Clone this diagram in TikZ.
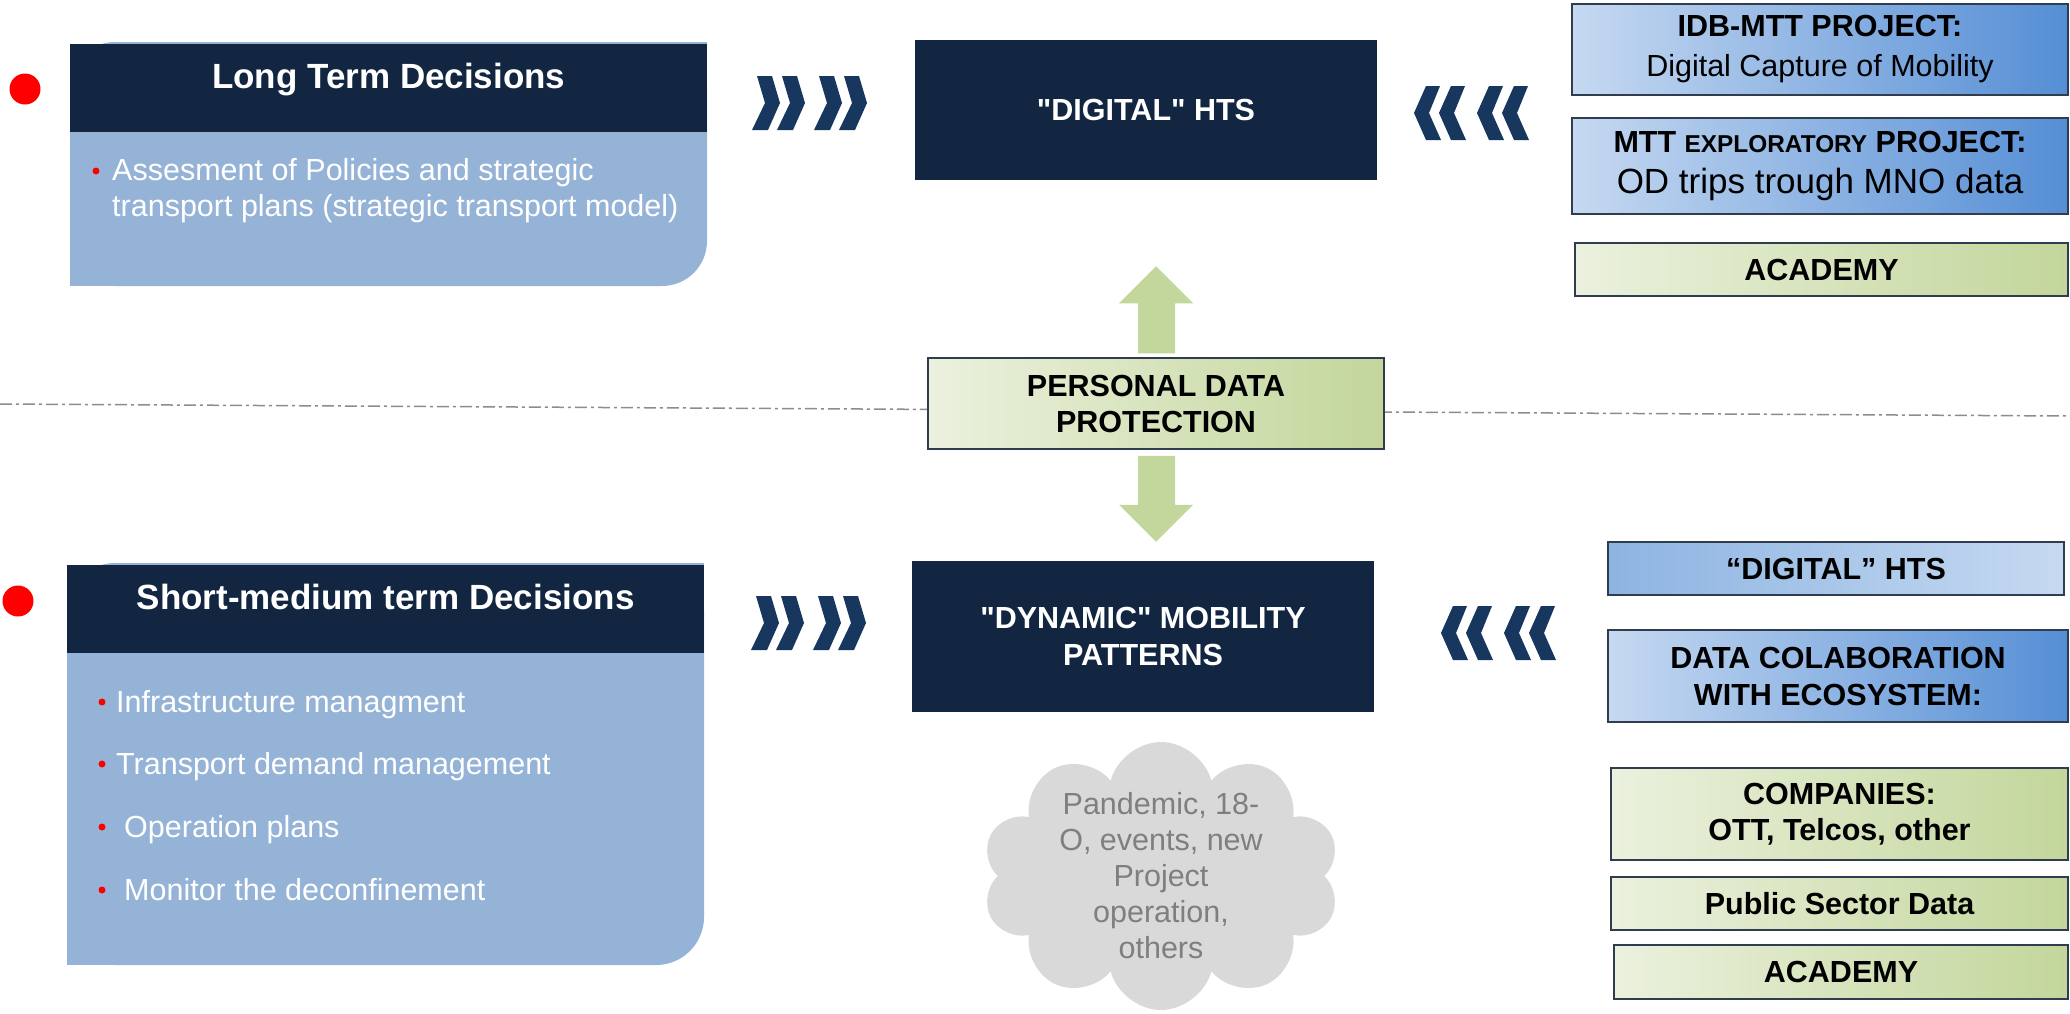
\documentclass[tikz,border=0pt]{standalone}
\usepackage{fontspec}
\setmainfont{Liberation Sans}[Ligatures=TeXOff]
\usetikzlibrary{calc, shapes.symbols}
\definecolor{navy}{HTML}{122642}
\definecolor{chevblue}{HTML}{17375E}
\definecolor{paneblue}{HTML}{95B3D7}
\definecolor{skylight}{HTML}{C6D9F1}
\definecolor{skydark}{HTML}{558ED5}
\definecolor{skymid}{HTML}{8DB4E2}
\definecolor{sagelight}{HTML}{EBF1DE}
\definecolor{sagedark}{HTML}{C3D69B}
\definecolor{edgeslate}{HTML}{2F3D4F}
\definecolor{cloudgray}{HTML}{D9D9D9}
\definecolor{cloudtext}{HTML}{7F7F7F}
\definecolor{rulegray}{HTML}{8C8C8C}

\begin{document}
\begin{tikzpicture}[x=1pt, y=-1pt,
  headbar/.style={fill=navy, anchor=north west, inner sep=0pt, minimum width=637pt, minimum height=88pt},
  headtitle/.style={text=white, anchor=base, inner sep=0pt, font=\bfseries\fontsize{35}{42}\selectfont},
  bodytext/.style={text=white, anchor=base west, inner sep=0pt, font=\fontsize{30.5}{36}\selectfont},
  reddot/.style={circle, fill=red, inner sep=0pt, minimum size=7pt},
  bigdot/.style={circle, fill=red, inner sep=0pt, minimum size=31pt},
  darkbox/.style={fill=navy, text=white, align=center, inner sep=0pt, minimum width=462pt, font=\bfseries\fontsize{30.5}{37}\selectfont},
  tile/.style={draw=edgeslate, line width=1.5pt, inner sep=0pt, align=center, font=\bfseries\fontsize{30.5}{35}\selectfont},
  bluetile/.style={tile, left color=skylight, right color=skydark},
  greentile/.style={tile, left color=sagelight, right color=sagedark},
  chevron/.style={fill=chevblue},
  bigarrow/.style={fill=sagedark}
]
  \useasboundingbox (0,0) rectangle (2070,1013);
  \fill[white] (0,0) rectangle (2070,1013);

  % Dash-dot divider between the two horizons
  \coordinate (ruleW) at (0,404);
  \coordinate (ruleE) at (2070,416);
  \draw[rulegray, line width=1.5pt, dash pattern=on 12pt off 4pt on 3pt off 4pt] (ruleW) -- (ruleE);

  % Long term panel
  \fill[paneblue, rounded corners=45pt] (70,42) rectangle (707,286);
  \fill[paneblue] (662,42) rectangle (707,87);
  \fill[paneblue] (70,241) rectangle (115,286);
  \node[headbar] (ltHead) at (70,44) {};
  \node[headtitle] (ltTitle) at ([yshift=-44pt]ltHead.north) {Long Term Decisions};
  \node[bigdot] (ltDot) at (25,89) {};
  \node[reddot] (ltBul) at (96,171) {};
  \node[bodytext] (ltItemA) at (112,180) {Assesment of Policies and strategic};
  \node[bodytext] (ltItemB) at (112,216) {transport plans (strategic transport model)};

  % Short-medium term panel
  \fill[paneblue, rounded corners=48pt] (67,563) rectangle (704,965);
  \fill[paneblue] (656,563) rectangle (704,611);
  \fill[paneblue] (67,917) rectangle (115,965);
  \node[headbar] (smHead) at (67,565) {};
  \node[headtitle] (smTitle) at ([yshift=-44pt]smHead.north) {Short-medium term Decisions};
  \node[bigdot] (smDot) at (18,601) {};
  \foreach \txt/\yb/\xt in {Infrastructure managment/712/116,
      Transport demand management/774/116,
      Operation plans/837/124,
      Monitor the deconfinement/900/124} {
    \node[reddot] (smBul\yb) at (102,\yb-10) {};
    \node[bodytext] (smItem\yb) at (\xt,\yb) {\txt};
  }

  % Chevrons towards the central boxes
  \foreach \x/\yc in {752/103, 751/623}
    \foreach \dx in {0,25,62,87}
      \fill[chevron] (\x+\dx,\yc) ++(5,-27) -- ++(15,0) -- ++(8,27) -- ++(-12,27)
        -- ++(-16,0) -- ++(13,-27) -- cycle;
  \foreach \x/\yc in {1414/113, 1441/633}
    \foreach \dx in {0,25,63,88}
      \fill[chevron] (\x+\dx,\yc) -- ++(12,-27) -- ++(14,0) -- ++(-11,27)
        -- ++(12,27) -- ++(-15,0) -- cycle;

  % Central boxes
  \node[darkbox, minimum height=140pt] (hts) at (1146,110) {"DIGITAL" HTS};
  \node[darkbox, minimum height=151pt] (dyn) at (1143,636.5) {"DYNAMIC" MOBILITY\\PATTERNS};
  \node[greentile, minimum width=456pt, minimum height=91pt, font=\bfseries\fontsize{30.5}{36}\selectfont]
    (pdp) at (1156,403.5) {PERSONAL DATA\\PROTECTION};

  % Wide arrows out of the data protection box
  \fill[bigarrow] ($(pdp.north)+(-18,-4)$) -- ++(0,-50) -- ++(-19,0) -- ++(37,-37)
    -- ++(37,37) -- ++(-18,0) -- ++(0,50) -- cycle;
  \fill[bigarrow] ($(pdp.south)+(-18,6)$) -- ++(0,49) -- ++(-19,0) -- ++(37,37)
    -- ++(37,-37) -- ++(-18,0) -- ++(0,-49) -- cycle;

  % Cloud of events
  \node[cloud, cloud puffs=10, aspect=1.34, fill=cloudgray, minimum width=358pt, minimum height=268pt,
    inner sep=0pt] (events) at (1161,876) {};
  \node[align=center, inner sep=0pt, text=cloudtext, font=\fontsize{30.5}{36}\selectfont]
    (eventsText) at (events.center) {Pandemic, 18-\\O, events, new\\Project\\operation,\\others};

  % Sources feeding the digital survey
  \node[bluetile, minimum width=496pt, minimum height=91pt, font=\bfseries\fontsize{30.5}{40}\selectfont]
    (idb) at (1820,49.5) {IDB-MTT PROJECT:\\{\mdseries Digital Capture of Mobility}};
  \node[bluetile, minimum width=496pt, minimum height=96pt, font=\bfseries\fontsize{30.5}{41}\selectfont]
    (mtt) at (1820,166)
    {MTT {\fontsize{24.4}{41}\selectfont EXPLORATORY} PROJECT:\\{\mdseries\fontsize{35}{41}\selectfont OD trips trough MNO data}};
  \node[greentile, minimum width=493pt, minimum height=53pt] (acadTop) at (1821.5,269.5) {ACADEMY};

  % Sources feeding the dynamic patterns
  \node[tile, left color=skymid, right color=skylight, minimum width=456pt, minimum height=53pt]
    (htsRight) at (1836,568.5) {“DIGITAL” HTS};
  \node[bluetile, minimum width=460pt, minimum height=92pt, font=\bfseries\fontsize{30.5}{37}\selectfont]
    (collab) at (1838,676) {DATA COLABORATION\\WITH ECOSYSTEM:};
  \node[greentile, minimum width=457pt, minimum height=92pt, font=\bfseries\fontsize{30.5}{36}\selectfont]
    (comp) at (1839.5,814) {COMPANIES:\\OTT, Telcos, other};
  \node[greentile, minimum width=457pt, minimum height=53pt] (pub) at (1839.5,903.5) {Public Sector Data};
  \node[greentile, minimum width=454pt, minimum height=54pt] (acadLow) at (1841,972) {ACADEMY};
\end{tikzpicture}
\end{document}
